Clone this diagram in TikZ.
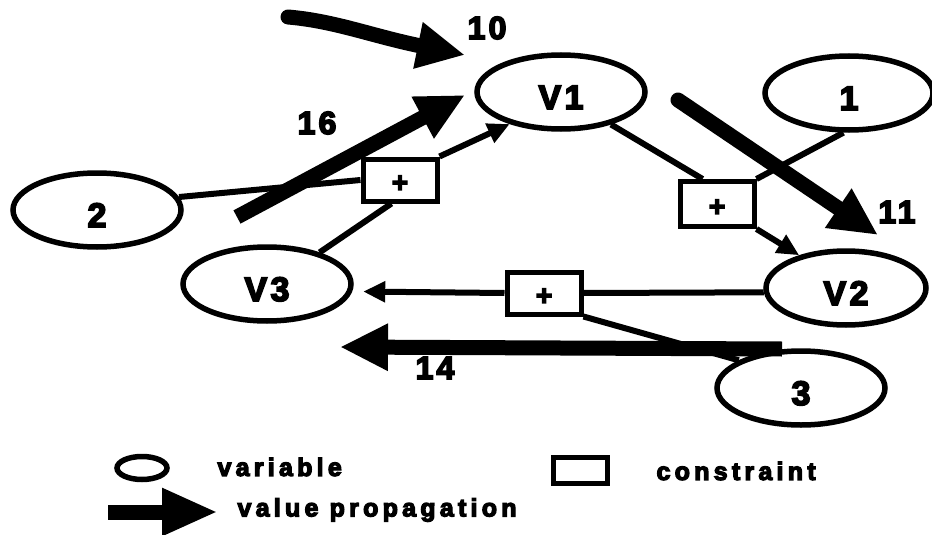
\documentclass[tikz,border=0pt]{standalone}
\usepackage{fontspec}
\setmainfont{Liberation Sans}[LetterSpace=10, BoldFeatures={FakeBold=5}]
\usetikzlibrary{shapes.geometric,arrows.meta}

\tikzset{
  var/.style={ellipse, draw, line width=5.5pt, minimum width=168pt,
    minimum height=74pt, inner sep=0pt, text height=34pt, text depth=0pt,
    font=\fontsize{34}{38}\selectfont\bfseries},
  cons/.style={rectangle, draw, line width=5pt, minimum width=74pt,
    minimum height=42pt, inner sep=0pt, text height=24pt, text depth=0pt,
    font=\fontsize{28}{30}\selectfont\bfseries},
  link/.style={line width=6pt},
  into/.style={link, -{Triangle[length=22pt,width=20pt]}},
  flow/.style={line width=15pt, -{Triangle[length=48pt,width=44pt]}},
  num/.style={font=\fontsize{32}{36}\selectfont\bfseries},
  key/.style={anchor=west,
    font=\fontsize{25}{28}\selectfont\addfontfeatures{LetterSpace=17}\bfseries}
}

\begin{document}
\begin{tikzpicture}[x=1pt,y=-1pt]
  \useasboundingbox (0,0) rectangle (932,535);

  % variables
  \node[var] (v1) at (561,92) {V1};
  \node[var] (one) at (849,93) {1};
  \node[var] (two) at (97,210) {2};
  \node[var] (v3) at (267,284) {V3};
  \node[var, minimum width=160pt] (v2) at (846,288) {V2};
  \node[var] (three) at (801,388) {3};

  % constraints
  \node[cons] (c1) at (400,180) {+};
  \node[cons, minimum height=45pt] (c2) at (717,204) {+};
  \node[cons] (c3) at (544,293) {+};

  % constraint network
  \draw[link] (two.9) -- (c1.west);
  \draw[link] (v3.31) -- (c1.250);
  \draw[into] (c1.north east) -- (v1.212);
  \draw[link] (v1.327) -- (c2.120);
  \draw[link] (one.262) -- (c2.north east);
  \draw[into] (c2.south east) -- (v2.145);
  \draw[link] (v2.183) -- (c3.east);
  \draw[into, shorten >=11pt] (c3.west) -- (v3.-5);
  \draw[link] (three.156) -- (c3.south east);

  % value propagation
  \coordinate (f10a) at (288,17);
  \coordinate (f10b) at (465,55);
  \coordinate (f16a) at (237,217);
  \coordinate (f16b) at (465,95);
  \coordinate (f11a) at (678,100);
  \coordinate (f11b) at (878,235);
  \coordinate (f14a) at (782,349);
  \coordinate (f14b) at (340,347);
  \draw[flow, line cap=round] (f10a) .. controls (335,21) and (372,36) .. (f10b);
  \draw[flow] (f16a) -- (f16b);
  \draw[flow, line cap=round] (f11a) -- (f11b);
  \draw[flow] (f14a) -- (f14b);
  \node[num] (n10) at (487,28) {10};
  \node[num] (n16) at (317,123) {16};
  \node[num] (n11) at (897,212) {11};
  \node[num] (n14) at (435,368) {14};

  % key
  \node[var, minimum width=50pt, minimum height=23pt, text height=0pt] (keyvar) at (142,468) {};
  \node[key] (keyvart) at (214,467) {variable};
  \node[cons, minimum width=54pt, minimum height=26pt, text height=0pt] (keycons) at (580,470) {};
  \node[key] (keyconst) at (653,471) {constraint};
  \coordinate (keyfa) at (108,512);
  \coordinate (keyfb) at (218,512);
  \draw[flow, -{Triangle[length=56pt,width=44pt]}] (keyfa) -- (keyfb);
  \node[key] (keyflow) at (234,510) {value propagation};
\end{tikzpicture}
\end{document}
